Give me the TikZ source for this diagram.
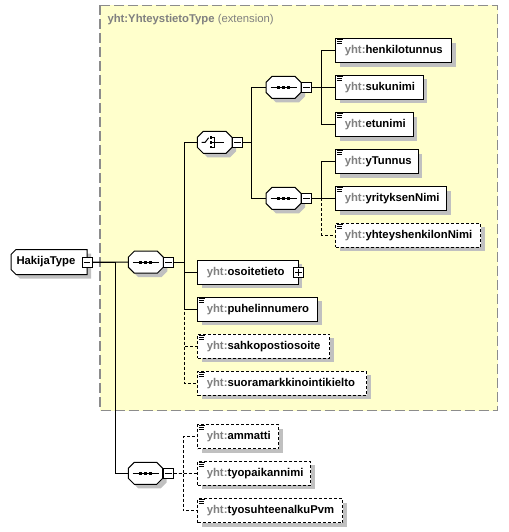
\documentclass[tikz,border=0pt]{standalone}
\usepackage{fontspec}
\setmainfont{Liberation Sans}
\usetikzlibrary{shadows}
\definecolor{bgyel}{HTML}{FFFFCC}
\definecolor{prefgray}{HTML}{808080}
\definecolor{shadowgray}{HTML}{C0C0C0}
\definecolor{framegray}{HTML}{8C8C8C}
\newcommand{\elt}[2]{\makebox[\dimexpr#1pt-18pt\relax][l]{\textcolor{prefgray}{yht:}#2}}
\newcommand{\elicon}[1]{%
  \draw[line width=0.9pt] ([shift={(1.5,1.5)}]#1.north west) -- ++(6,0)
    ([shift={(1.5,3.5)}]#1.north west) -- ++(5,0)
    ([shift={(1.5,5.5)}]#1.north west) -- ++(5,0);}
% octagon outline around node #1, chamfer #2, offset (#3,#4)
\newcommand{\octpath}[4]{%
  ([shift={(#2+#3,#4)}]#1.north west) -- ([shift={(-#2+#3,#4)}]#1.north east)
  -- ([shift={(#3,#2+#4)}]#1.north east) -- ([shift={(#3,-#2+#4)}]#1.south east)
  -- ([shift={(-#2+#3,#4)}]#1.south east) -- ([shift={(#2+#3,#4)}]#1.south west)
  -- ([shift={(#3,-#2+#4)}]#1.south west) -- ([shift={(#3,#2+#4)}]#1.north west) -- cycle}
\newcommand{\octa}[1]{%
  \fill[shadowgray] \octpath{#1}{6}{4}{4};
  \draw[fill=white] \octpath{#1}{6}{0}{0};}
\newcommand{\seqdots}[1]{%
  \draw ([xshift=-13pt]#1.center) -- ([xshift=13pt]#1.center);
  \fill ([shift={(-6.5,-1.5)}]#1.center) rectangle ++(3,3);
  \fill ([shift={(-1.5,-1.5)}]#1.center) rectangle ++(3,3);
  \fill ([shift={(3.5,-1.5)}]#1.center) rectangle ++(3,3);}
\newcommand{\minusin}[1]{\draw ([xshift=2pt]#1.west) -- ([xshift=-2pt]#1.east);}
\begin{document}
\begin{tikzpicture}[x=1pt,y=-1pt,line width=1pt,
  shad/.style={drop shadow={shadow xshift=4pt,shadow yshift=-4pt,fill=shadowgray,opacity=1}},
  elem/.style={draw,fill=white,shad,minimum height=24pt,inner xsep=9pt,inner ysep=0pt,anchor=west,
    font=\fontsize{11.3}{13}\selectfont\bfseries},
  opt/.style={elem,dash pattern=on 3pt off 2pt},
  comp/.style={rectangle,minimum width=34pt,minimum height=21pt,inner sep=0pt,anchor=west},
  tog/.style={draw,fill=white,minimum size=10pt,inner sep=0pt,line width=0.9pt},
  optconn/.style={dash pattern=on 3pt off 2pt}
]
\useasboundingbox (0,0) rectangle (508,532);
% extension frame
\draw[fill=bgyel,draw=framegray,line width=1.3pt,dash pattern=on 10pt off 4pt] (100,5.3) rectangle (497.7,410.7);
\node[anchor=base west,text=prefgray,font=\fontsize{11.3}{13}\selectfont,inner sep=0pt] (title) at (107,22.5)
  {\textbf{yht:YhteystietoType} (extension)};

% root
\node[rectangle,minimum width=75pt,minimum height=24pt,inner sep=0pt,anchor=west] (hak) at (11,262) {};
\fill[shadowgray] ([shift={(9,4)}]hak.north west) -- ([shift={(4,4)}]hak.north east) -- ([shift={(4,4)}]hak.south east)
  -- ([shift={(9,4)}]hak.south west) -- ([shift={(4,-1)}]hak.south west) -- ([shift={(4,9)}]hak.north west) -- cycle;
\draw[fill=white] ([shift={(5,0)}]hak.north west) -- (hak.north east) -- (hak.south east)
  -- ([shift={(5,0)}]hak.south west) -- ([shift={(0,-5)}]hak.south west) -- ([shift={(0,5)}]hak.north west) -- cycle;
\node[rectangle,inner sep=0pt,font=\fontsize{11.3}{13}\selectfont\bfseries] (haktext) at (hak.center) {\makebox[65pt][l]{HakijaType}};
\node[tog] (hakm) at (hak.east) {}; \minusin{hakm}

% main sequence
\node[comp] (ms) at (128.3,262.2) {}; \octa{ms} \seqdots{ms}
\node[tog,anchor=west] (msm) at (ms.east) {}; \minusin{msm}

% choice
\node[comp,minimum width=33.7pt] (ch) at (197.3,142.3) {}; \octa{ch}
\node[tog,anchor=west] (chm) at (ch.east) {}; \minusin{chm}
\draw ([xshift=-13pt]ch.center) -- ([xshift=-9.5pt]ch.center) -- ([shift={(-6,-4.5)}]ch.center);
\fill ([shift={(-5,-6)}]ch.center) rectangle ++(2.6,2.6);
\fill ([shift={(-5,-1.3)}]ch.center) rectangle ++(2.6,2.6);
\fill ([shift={(-5,3.4)}]ch.center) rectangle ++(2.6,2.6);
\draw[line width=0.9pt] ([shift={(-2.4,-4.7)}]ch.center) -- ++(2.6,0) -- ++(0,9.4) -- ++(-2.6,0)
  ([shift={(-2.4,0)}]ch.center) -- ([shift={(9,0)}]ch.center);

% sequence 1
\node[comp] (s1) at (266,87.3) {}; \octa{s1} \seqdots{s1}
\node[tog,anchor=west] (s1m) at (s1.east) {}; \minusin{s1m}
% sequence 2
\node[comp] (s2) at (266,198.4) {}; \octa{s2} \seqdots{s2}
\node[tog,anchor=west] (s2m) at (s2.east) {}; \minusin{s2m}
% sequence 3
\node[comp,minimum width=33.4pt] (s3) at (128.3,473.3) {}; \octa{s3} \seqdots{s3}
\node[tog,anchor=west] (s3m) at (s3.east) {}; \minusin{s3m}

% elements
\node[elem] (henk) at (335.3,50.8) {\elt{115.7}{henkilotunnus}}; \elicon{henk}
\node[elem] (suku) at (335.3,87.5) {\elt{87.4}{sukunimi}}; \elicon{suku}
\node[elem] (etu) at (335.3,124.5) {\elt{77.4}{etunimi}}; \elicon{etu}
\node[elem] (ytun) at (335.3,161.5) {\elt{82.4}{yTunnus}}; \elicon{ytun}
\node[elem] (yrit) at (335.3,198.5) {\elt{110.7}{yrityksenNimi}}; \elicon{yrit}
\node[opt] (yhte) at (335.3,235.3) {\elt{144.7}{yhteyshenkilonNimi}}; \elicon{yhte}
\node[elem] (osoi) at (197.3,272.3) {\elt{100.4}{osoitetieto}};
\node[tog] (osoip) at (osoi.east) {};
\draw ([xshift=2pt]osoip.west) -- ([xshift=-2pt]osoip.east) ([yshift=-2pt]osoip.north) -- ([yshift=2pt]osoip.south);
\node[elem] (puhe) at (197.3,309.3) {\elt{120}{puhelinnumero}}; \elicon{puhe}
\node[opt] (sahk) at (197.3,346.3) {\elt{132}{sahkopostiosoite}}; \elicon{sahk}
\node[opt] (suor) at (197.3,383.3) {\elt{168.7}{suoramarkkinointikielto}}; \elicon{suor}
\node[opt] (amma) at (197.3,436.7) {\elt{81}{ammatti}}; \elicon{amma}
\node[opt] (tyop) at (197.3,473.3) {\elt{112.7}{tyopaikannimi}}; \elicon{tyop}
\node[opt] (tyos) at (197.3,510.7) {\elt{145}{tyosuhteenalkuPvm}}; \elicon{tyos}

% connectors
\draw (hakm.east) -- (ms.west);
\draw (hakm.east) -- ++(23.3,0) |- (s3.west);
\draw[optconn] (msm.east) -- ++(10.7,0) |- (sahk.west);
\draw[optconn] (msm.east) -- ++(10.7,0) |- (suor.west);
\draw (msm.east) -- ++(10.7,0) |- (ch.west);
\draw (msm.east) -- ++(10.7,0) |- (osoi.west);
\draw (msm.east) -- ++(10.7,0) |- (puhe.west);
\draw (chm.east) -- ++(9,0) |- (s1.west);
\draw (chm.east) -- ++(9,0) |- (s2.west);
\draw (s1m.east) -- ++(10,0) |- (henk.west);
\draw (s1m.east) -- ++(10,0) |- (suku.west);
\draw (s1m.east) -- ++(10,0) |- (etu.west);
\draw[optconn] (s2m.east) -- ++(10,0) |- (yhte.west);
\draw (s2m.east) -- ++(10,0) |- (ytun.west);
\draw (s2m.east) -- ++(10,0) |- (yrit.west);
\draw[optconn] (s3m.east) -- ++(9.8,0) |- (amma.west);
\draw[optconn] (s3m.east) -- ++(9.8,0) |- (tyop.west);
\draw[optconn] (s3m.east) -- ++(9.8,0) |- (tyos.west);
\end{tikzpicture}
\end{document}
